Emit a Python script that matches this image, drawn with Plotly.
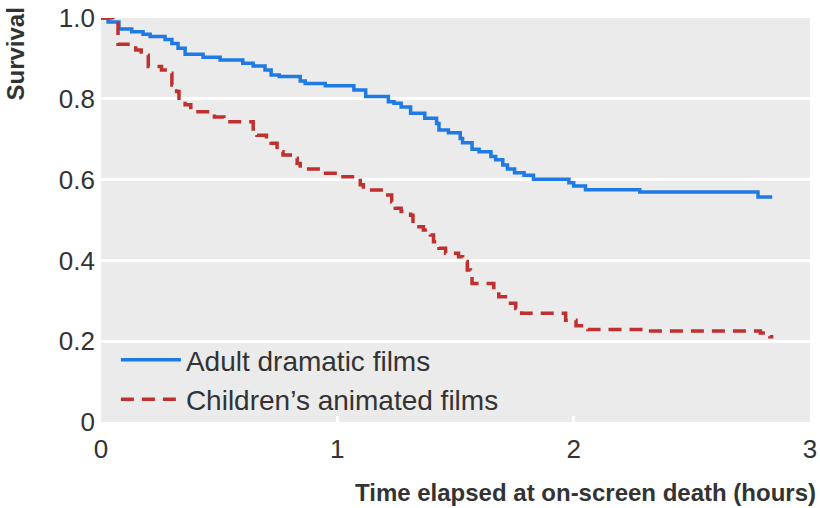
import plotly.graph_objects as go

# Adult dramatic films (Kaplan-Meier steps)
adult_t = [0, 0.03, 0.076, 0.13, 0.178, 0.208, 0.271, 0.30, 0.326, 0.356, 0.432, 0.504,
           0.60, 0.644, 0.694, 0.72, 0.754, 0.843, 0.864, 0.949, 1.07, 1.12, 1.216, 1.24,
           1.27, 1.31, 1.37, 1.42, 1.43, 1.47, 1.52, 1.53, 1.57, 1.60, 1.65, 1.67, 1.70,
           1.72, 1.75, 1.79, 1.83, 1.98, 2.0, 2.05, 2.28, 2.78, 2.84]
adult_s = [1.0, 0.99, 0.973, 0.966, 0.96, 0.954, 0.947, 0.937, 0.925, 0.91, 0.903, 0.896,
           0.888, 0.881, 0.871, 0.859, 0.855, 0.844, 0.838, 0.832, 0.822, 0.806, 0.793, 0.789,
           0.78, 0.764, 0.752, 0.739, 0.723, 0.716, 0.702, 0.691, 0.675, 0.669, 0.657, 0.649, 0.636,
           0.626, 0.617, 0.611, 0.601, 0.592, 0.584, 0.575, 0.569, 0.557, 0.557]

# Children's animated films
child_t = [0, 0.05, 0.072, 0.147, 0.17, 0.2, 0.256, 0.284, 0.30, 0.32, 0.33, 0.356, 0.38,
           0.48, 0.52, 0.644, 0.66, 0.70, 0.72, 0.745, 0.77, 0.815, 0.83, 0.843, 0.94, 1.0,
           1.097, 1.11, 1.195, 1.23, 1.245, 1.27, 1.31, 1.32, 1.364, 1.394, 1.407, 1.43, 1.458,
           1.513, 1.53, 1.55, 1.563, 1.57, 1.662, 1.683, 1.72, 1.755, 1.78, 1.966, 2.01, 2.06,
           2.3, 2.79, 2.83, 2.845]
child_s = [1.0, 0.987, 0.935, 0.921, 0.908, 0.88, 0.871, 0.863, 0.834, 0.818, 0.793, 0.785, 0.768,
           0.755, 0.743, 0.719, 0.71, 0.698, 0.69, 0.669, 0.661, 0.653, 0.64, 0.626, 0.616, 0.607,
           0.587, 0.574, 0.562, 0.545, 0.529, 0.521, 0.512, 0.483, 0.475, 0.463, 0.446, 0.43, 0.418,
           0.409, 0.397, 0.376, 0.36, 0.343, 0.327, 0.31, 0.294, 0.281, 0.269, 0.252, 0.238, 0.229,
           0.225, 0.22, 0.211, 0.211]

x_ticks = [0, 1, 2, 3]
x_labels = ["0", "1", "2", "3"]
y_ticks = [0, 0.2, 0.4, 0.6, 0.8, 1.0]
y_labels = ["0", "0.2", "0.4", "0.6", "0.8", "1.0"]

FONT = "Liberation Sans, Arial, sans-serif"
TXT = "#333333"

fig = go.Figure()
fig.add_trace(go.Scatter(x=adult_t, y=adult_s, mode="lines", line_shape="hv",
                         name="Adult dramatic films",
                         line=dict(color="#1f7ae6", width=3.5)))
fig.add_trace(go.Scatter(x=child_t, y=child_s, mode="lines", line_shape="hv",
                         name="Children\u2019s animated films",
                         line=dict(color="#c0302f", width=3.5, dash="13px,8px")))

fig.update_layout(
    width=820, height=508,
    margin=dict(l=101, r=10, t=18, b=86, autoexpand=False),
    paper_bgcolor="white", plot_bgcolor="#ebebeb",
    font=dict(family=FONT, color=TXT, size=26),
    legend=dict(x=0.021, y=0.215, xanchor="left", yanchor="top",
                bgcolor="rgba(0,0,0,0)", font=dict(size=28, color=TXT),
                itemwidth=60, tracegroupgap=0),
    showlegend=True,
)
fig.update_xaxes(range=[0, 3], tickvals=x_ticks, ticktext=x_labels, showgrid=False,
                 zeroline=False, showline=False, ticks="inside", ticklen=6, tickwidth=3,
                 tickcolor="white", tickfont=dict(size=26, color=TXT), fixedrange=True,
                 automargin=False, ticklabelstandoff=9)
fig.update_yaxes(range=[0, 1.0], tickvals=y_ticks, ticktext=y_labels, showgrid=True,
                 gridcolor="white", gridwidth=3, zeroline=False, showline=False,
                 ticks="", tickfont=dict(size=26, color=TXT), ticklabelstandoff=5,
                 fixedrange=True, automargin=False)

fig.add_annotation(text="<b>Survival</b>", xref="paper", yref="paper", x=0, y=1,
                   xanchor="center", yanchor="top", xshift=-86, yshift=12,
                   textangle=-90, showarrow=False, font=dict(size=24, color=TXT, family=FONT))
fig.add_annotation(text="<b>Time elapsed at on-screen death (hours)</b>", xref="paper",
                   yref="paper", x=1, y=0, xanchor="right", yanchor="middle",
                   xshift=8, yshift=-70, showarrow=False,
                   font=dict(size=24, color=TXT, family=FONT))

fig.write_html("out.html", config={"displayModeBar": False},
               post_script="document.body.style.margin='0';document.body.style.overflow='hidden';")
